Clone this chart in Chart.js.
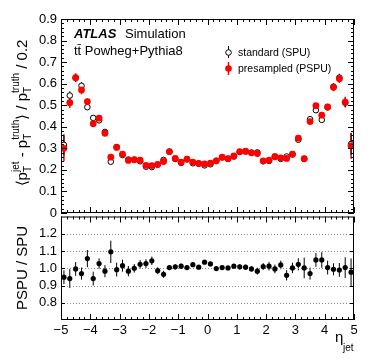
<!DOCTYPE html>
<html>
<head>
<meta charset="utf-8">
<script src="https://cdn.jsdelivr.net/npm/chart.js@4.4.1/dist/chart.umd.min.js"></script>
<style>
  html, body { margin: 0; padding: 0; background: #fff; }
  #wrap { position: relative; width: 374px; height: 359px; overflow: hidden; }
  #c1 { position: absolute; left: 0; top: 0; }
  #c2 { position: absolute; left: 0; top: 204px; }
</style>
</head>
<body>
<div id="wrap">
  <canvas id="c1" width="374" height="226"></canvas>
  <canvas id="c2" width="374" height="155"></canvas>
</div>
<script>
const FONT = '"Liberation Sans", Arial, Helvetica, sans-serif';

// jet eta bin centres (0.2 wide bins from -5 to 5)
const etaCenters = [-4.9,-4.7,-4.5,-4.3,-4.1,-3.9,-3.7,-3.5,-3.3,-3.1,-2.9,-2.7,-2.5,-2.3,-2.1,-1.9,-1.7,-1.5,-1.3,-1.1,
  -0.9,-0.7,-0.5,-0.3,-0.1,0.1,0.3,0.5,0.7,0.9,1.1,1.3,1.5,1.7,1.9,2.1,2.3,2.5,2.7,2.9,
  3.1,3.3,3.5,3.7,3.9,4.1,4.3,4.5,4.7,4.9];

// standard pile-up (open markers)
const spu = [0.316,0.545,0.627,0.590,0.491,0.441,0.430,0.376,0.238,0.306,0.269,0.248,0.247,0.240,0.215,0.213,0.224,0.246,0.284,0.251,
  0.233,0.249,0.231,0.229,0.221,0.226,0.242,0.258,0.251,0.262,0.283,0.285,0.280,0.281,0.240,0.242,0.262,0.251,0.262,0.272,
  0.340,0.251,0.435,0.477,0.432,0.490,0.586,0.628,0.512,0.320];
const spuErr = [0.050,0.020,0.018,0.018,0.013,0.010,0.010,0.008,0.006,0.005,0.004,0.004,0.004,0.004,0.004,0.004,0.004,0.004,0.004,0.004,
  0.004,0.004,0.004,0.004,0.004,0.004,0.004,0.004,0.004,0.004,0.004,0.004,0.004,0.004,0.004,0.004,0.004,0.004,0.004,0.004,
  0.005,0.006,0.008,0.010,0.010,0.013,0.015,0.018,0.020,0.050];

// presampled pile-up (red markers)
const pspu = [0.300,0.512,0.628,0.571,0.517,0.414,0.440,0.370,0.259,0.304,0.273,0.244,0.247,0.245,0.221,0.220,0.226,0.239,0.285,0.253,
  0.236,0.250,0.236,0.230,0.228,0.231,0.242,0.259,0.252,0.265,0.285,0.287,0.279,0.276,0.242,0.245,0.261,0.256,0.253,0.273,
  0.347,0.252,0.424,0.498,0.454,0.492,0.583,0.623,0.514,0.312];
const pspuErr = [0.060,0.025,0.020,0.020,0.015,0.012,0.012,0.010,0.008,0.006,0.005,0.005,0.005,0.005,0.005,0.005,0.005,0.005,0.005,0.005,
  0.005,0.005,0.005,0.005,0.005,0.005,0.005,0.005,0.005,0.005,0.005,0.005,0.005,0.005,0.005,0.005,0.005,0.005,0.005,0.005,
  0.006,0.008,0.010,0.012,0.012,0.015,0.018,0.020,0.025,0.060];

// PSPU / SPU
const ratio = [0.948,0.940,0.996,0.969,1.056,0.940,1.027,0.983,1.095,0.992,1.015,0.983,1.000,1.023,1.027,1.043,0.986,0.965,1.004,1.008,
  1.012,1.004,1.021,1.006,1.035,1.025,0.998,1.004,1.002,1.012,1.008,1.006,0.996,0.983,1.010,1.012,0.996,1.019,0.959,1.002,
  1.023,1.002,0.969,1.048,1.048,1.004,0.994,0.990,1.004,0.977];
const ratioErr = [0.040,0.055,0.040,0.035,0.050,0.040,0.030,0.035,0.065,0.040,0.035,0.030,0.025,0.025,0.025,0.025,0.020,0.020,0.015,0.015,
  0.015,0.012,0.012,0.012,0.012,0.012,0.012,0.012,0.012,0.012,0.015,0.015,0.015,0.020,0.020,0.025,0.025,0.025,0.030,0.030,
  0.035,0.060,0.035,0.040,0.045,0.040,0.035,0.040,0.060,0.080];

const xTicks = [-5,-4,-3,-2,-1,0,1,2,3,4,5];
const yTicksTop = [0,0.1,0.2,0.3,0.4,0.5,0.6,0.7,0.8,0.9];
const yTicksRatio = [0.8,0.9,1.0,1.1,1.2];

const pts = (ys) => etaCenters.map((e, i) => ({x: e, y: ys[i]}));

// vertical error bars, drawn under the markers
const errorBars = {
  id: 'errorBars',
  beforeDatasetsDraw(chart) {
    const {ctx, scales: {x, y}} = chart;
    ctx.save();
    chart.data.datasets.forEach(ds => {
      ctx.strokeStyle = ds.barColor;
      ctx.lineWidth = ds.barWidth;
      ctx.beginPath();
      ds.data.forEach((p, i) => {
        const px = x.getPixelForValue(p.x);
        ctx.moveTo(px, y.getPixelForValue(p.y - ds.errors[i]));
        ctx.lineTo(px, y.getPixelForValue(p.y + ds.errors[i]));
      });
      ctx.stroke();
    });
    ctx.restore();
  }
};

// ROOT style box with inward ticks on all four sides
function drawFrame(chart, yMajor, yMinorN, majLen, minLen, yMajLen) {
  const {ctx, chartArea: a, scales: {x, y}} = chart;
  ctx.save();
  ctx.strokeStyle = '#000';
  ctx.lineWidth = 1;
  ctx.strokeRect(a.left + 0.5, a.top + 0.5, a.right - a.left - 1, a.bottom - a.top - 1);
  ctx.beginPath();
  const xt = (v, len) => {
    const px = Math.round(x.getPixelForValue(v)) + 0.5;
    ctx.moveTo(px, a.bottom); ctx.lineTo(px, a.bottom - len);
    ctx.moveTo(px, a.top); ctx.lineTo(px, a.top + len);
  };
  const yt = (v, len) => {
    const py = Math.round(y.getPixelForValue(v)) + 0.5;
    ctx.moveTo(a.left, py); ctx.lineTo(a.left + len, py);
    ctx.moveTo(a.right, py); ctx.lineTo(a.right - len, py);
  };
  xTicks.forEach((v, i) => {
    xt(v, majLen);
    if (i < xTicks.length - 1) for (let k = 1; k < 5; k++) xt(v + k * 0.2, minLen);
  });
  yMajor.forEach((v, i) => {
    yt(v, yMajLen);
    if (yMinorN && i < yMajor.length - 1) {
      const step = (yMajor[i + 1] - v) / yMinorN;
      for (let k = 1; k < yMinorN; k++) yt(v + k * step, minLen);
    }
  });
  ctx.stroke();
  ctx.restore();
}

// text with sub/superscripts, parts: [text, size, dy, advance]
function richText(ctx, parts, x, y, angle) {
  ctx.save();
  ctx.translate(x, y);
  ctx.rotate(angle);
  ctx.fillStyle = '#000';
  ctx.textBaseline = 'alphabetic';
  let total = 0;
  parts.forEach(p => {
    ctx.font = p[1] + 'px ' + FONT;
    if (p[3] !== false) total += ctx.measureText(p[0]).width;
  });
  let cx = -total / 2;
  parts.forEach(p => {
    ctx.font = p[1] + 'px ' + FONT;
    ctx.fillText(p[0], cx, p[2]);
    if (p[3] !== false) cx += ctx.measureText(p[0]).width;
  });
  ctx.restore();
}

const topText = {
  id: 'topText',
  afterDraw(chart) {
    const ctx = chart.ctx;
    drawFrame(chart, yTicksTop, 5, 6, 3, 6);
    ctx.save();
    ctx.fillStyle = '#000';
    ctx.font = 'italic bold 13px ' + FONT;
    ctx.fillText('ATLAS', 74, 38);
    ctx.font = '13px ' + FONT;
    ctx.fillText('Simulation', 125, 38);
    ctx.fillText('tt\u0304 Powheg+Pythia8', 74, 55);

    // legend
    ctx.font = '10.5px ' + FONT;
    ctx.fillText('standard (SPU)', 238, 56);
    ctx.fillText('presampled (PSPU)', 238, 72);
    ctx.strokeStyle = '#000';
    ctx.lineWidth = 1;
    ctx.beginPath(); ctx.moveTo(228.5, 46); ctx.lineTo(228.5, 58); ctx.stroke();
    ctx.fillStyle = '#fff';
    ctx.beginPath(); ctx.arc(228.5, 52.5, 2.8, 0, Math.PI * 2); ctx.fill(); ctx.stroke();
    ctx.strokeStyle = '#ff0000';
    ctx.lineWidth = 1.5;
    ctx.beginPath(); ctx.moveTo(228.5, 62); ctx.lineTo(228.5, 75); ctx.stroke();
    ctx.fillStyle = '#ff0000';
    ctx.beginPath(); ctx.arc(228.5, 68.5, 3.3, 0, Math.PI * 2); ctx.fill();
    ctx.restore();

    // y title
    richText(ctx, [
      ['\u27e8', 15, 0], ['p', 15, 0], ['T', 10, 4, false], ['jet', 10, -8],
      [' - ', 15, 0], ['p', 15, 0], ['T', 10, 4, false], ['truth', 10, -8],
      ['\u27e9', 15, 0], [' / ', 15, 0], ['p', 15, 0], ['T', 10, 4, false], ['truth', 10, -8],
      [' / 0.2', 15, 0]
    ], 27, 113, -Math.PI / 2);
  }
};

const botText = {
  id: 'botText',
  beforeDatasetsDraw(chart) {
    const {ctx, chartArea: a, scales: {y}} = chart;
    ctx.save();
    ctx.strokeStyle = '#8a8a8a';
    ctx.lineWidth = 1;
    ctx.setLineDash([1, 2]);
    ctx.beginPath();
    yTicksRatio.forEach(v => {
      const py = Math.round(y.getPixelForValue(v)) + 0.5;
      ctx.moveTo(a.left, py); ctx.lineTo(a.right, py);
    });
    ctx.stroke();
    ctx.restore();
  },
  afterDraw(chart) {
    const ctx = chart.ctx;
    drawFrame(chart, yTicksRatio, 0, 6, 3, 4);
    richText(ctx, [['PSPU / SPU', 15, 0]], 27, 64, -Math.PI / 2);
    ctx.save();
    ctx.fillStyle = '#000';
    ctx.font = '15px ' + FONT;
    ctx.fillText('\u03b7', 335, 138);
    ctx.font = '10px ' + FONT;
    ctx.fillText('jet', 343, 147);
    ctx.restore();
  }
};

const tickFont = {family: FONT, size: 13};
const fmt = v => v === 0 ? '0' : v.toFixed(1);

new Chart(document.getElementById('c1'), {
  type: 'scatter',
  data: {
    datasets: [
      { label: 'presampled (PSPU)', data: pts(pspu), errors: pspuErr, barColor: '#ff0000', barWidth: 1.5,
        pointRadius: 3.4, pointBackgroundColor: '#ff0000', pointBorderColor: '#ff0000', pointBorderWidth: 0, order: 1 },
      { label: 'standard (SPU)', data: pts(spu), errors: spuErr, barColor: '#000', barWidth: 1,
        pointRadius: 2.8, pointBackgroundColor: '#fff', pointBorderColor: '#000', pointBorderWidth: 1, order: 2 }
    ]
  },
  options: {
    responsive: false,
    animation: false,
    layout: { padding: {top: 19, right: 20, bottom: 13, left: 0} },
    plugins: { legend: {display: false}, tooltip: {enabled: false} },
    scales: {
      x: { type: 'linear', min: -5, max: 5, display: false },
      y: {
        min: 0, max: 0.9,
        afterBuildTicks: s => { s.ticks = yTicksTop.map(v => ({value: v})); },
        afterFit: s => { s.width = 61; },
        grid: {display: false, drawTicks: false},
        border: {display: false},
        ticks: {font: tickFont, color: '#000', padding: 4, callback: fmt}
      }
    }
  },
  plugins: [errorBars, topText]
});

new Chart(document.getElementById('c2'), {
  type: 'scatter',
  data: {
    datasets: [
      { label: 'PSPU / SPU', data: pts(ratio), errors: ratioErr, barColor: '#000', barWidth: 1,
        pointRadius: 2.6, pointBackgroundColor: '#000', pointBorderColor: '#000', pointBorderWidth: 0 }
    ]
  },
  options: {
    responsive: false,
    animation: false,
    layout: { padding: {top: 12.5, right: 20, bottom: 0, left: 0} },
    plugins: { legend: {display: false}, tooltip: {enabled: false} },
    scales: {
      x: {
        type: 'linear', min: -5, max: 5,
        afterBuildTicks: s => { s.ticks = xTicks.map(v => ({value: v})); },
        afterFit: s => { s.height = 39; },
        grid: {display: false, drawTicks: false},
        border: {display: false},
        ticks: {font: tickFont, color: '#000', padding: 3, maxRotation: 0,
          callback: v => v < 0 ? '\u2212' + Math.abs(v) : String(v)}
      },
      y: {
        min: 0.7, max: 1.3,
        afterBuildTicks: s => { s.ticks = yTicksRatio.map(v => ({value: v})); },
        afterFit: s => { s.width = 61; },
        grid: {display: false, drawTicks: false},
        border: {display: false},
        ticks: {font: tickFont, color: '#000', padding: 4, callback: v => v.toFixed(1)}
      }
    }
  },
  plugins: [errorBars, botText]
});
</script>
</body>
</html>
